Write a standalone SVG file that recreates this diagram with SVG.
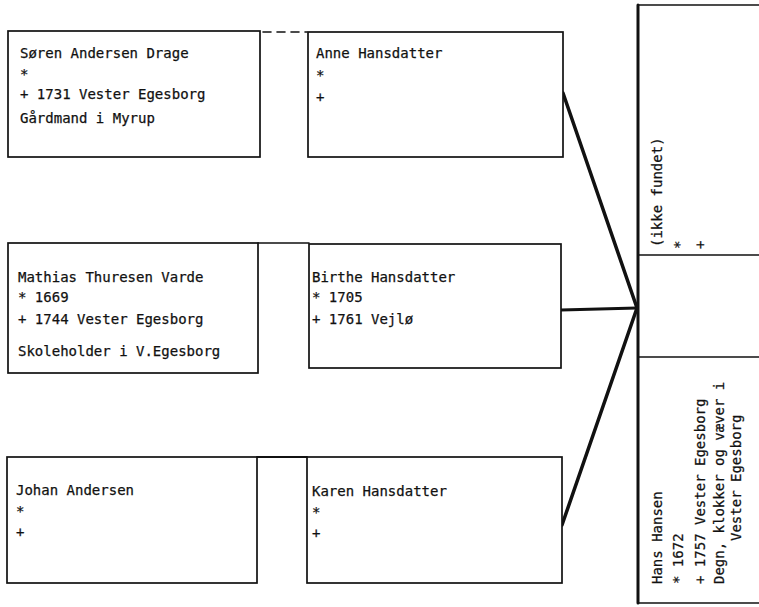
<svg xmlns="http://www.w3.org/2000/svg" width="759" height="607" viewBox="0 0 759 607">
<style>
.box{fill:#fff;stroke:#111;stroke-width:1.7}
.t{font-family:"DejaVu Sans Mono","Liberation Mono",monospace;font-size:14px;fill:#111;stroke:#111;stroke-width:0.25}
.c{stroke:#111;fill:none;stroke-linecap:round}
</style>
<rect width="759" height="607" fill="#fff"/>
<g id="connectors">
<line class="c" x1="263" y1="32" x2="307" y2="32" stroke-width="1.6" stroke-dasharray="8,6" stroke-linecap="butt"/>
<line class="c" x1="258" y1="243" x2="309" y2="243" stroke-width="1.6"/>
<line class="c" x1="257" y1="457" x2="307" y2="457" stroke-width="2"/>
<line class="c" x1="563" y1="93" x2="637" y2="308" stroke-width="3.5"/>
<line class="c" x1="561" y1="310" x2="637" y2="308" stroke-width="3"/>
<line class="c" x1="562" y1="525" x2="637" y2="308" stroke-width="3.5"/>
</g>
<g id="soren">
<rect class="box" x="8" y="31" width="252" height="126"/>
<text class="t" x="20" y="58">Søren Andersen Drage</text>
<text class="t" x="20" y="79">*</text>
<text class="t" x="20" y="99">+ 1731 Vester Egesborg</text>
<text class="t" x="20" y="123">Gårdmand i Myrup</text>
</g>
<g id="anne">
<rect class="box" x="308" y="32" width="255" height="125"/>
<text class="t" x="316" y="58">Anne Hansdatter</text>
<text class="t" x="316" y="80">*</text>
<text class="t" x="316" y="102">+</text>
</g>
<g id="mathias">
<rect class="box" x="8" y="243" width="250" height="130"/>
<text class="t" x="18" y="282">Mathias Thuresen Varde</text>
<text class="t" x="18" y="302">* 1669</text>
<text class="t" x="18" y="324">+ 1744 Vester Egesborg</text>
<text class="t" x="18" y="356">Skoleholder i V.Egesborg</text>
</g>
<g id="birthe">
<rect class="box" x="309" y="244" width="252" height="124"/>
<text class="t" x="312" y="282">Birthe Hansdatter</text>
<text class="t" x="312" y="302">* 1705</text>
<text class="t" x="312" y="324">+ 1761 Vejlø</text>
</g>
<g id="johan">
<rect class="box" x="7" y="457" width="250" height="126"/>
<text class="t" x="16" y="495">Johan Andersen</text>
<text class="t" x="16" y="516">*</text>
<text class="t" x="16" y="537">+</text>
</g>
<g id="karen">
<rect class="box" x="307" y="457" width="255" height="126"/>
<text class="t" x="312" y="496">Karen Hansdatter</text>
<text class="t" x="312" y="517">*</text>
<text class="t" x="312" y="538">+</text>
</g>
<g id="unknown-parent">
<line class="c" x1="638" y1="5" x2="759" y2="5" stroke-width="1.7"/>
<line class="c" x1="638" y1="255" x2="759" y2="255" stroke-width="1.7"/>
<text class="t" transform="translate(662,247) rotate(-90)">(ikke fundet)</text>
<text class="t" transform="translate(684,249) rotate(-90)">*</text>
<text class="t" transform="translate(705,249) rotate(-90)">+</text>
</g>
<g id="middle">
<line class="c" x1="638" y1="357" x2="759" y2="357" stroke-width="1.7"/>
</g>
<g id="hans">
<line class="c" x1="638" y1="603" x2="759" y2="603" stroke-width="1.7"/>
<text class="t" transform="translate(662,584) rotate(-90)">Hans Hansen</text>
<text class="t" transform="translate(683,584) rotate(-90)">* 1672</text>
<text class="t" transform="translate(705,584) rotate(-90)">+ 1757 Vester Egesborg</text>
<text class="t" transform="translate(724,584) rotate(-90)">Degn, klokker og væver i</text>
<text class="t" transform="translate(741,541) rotate(-90)">Vester Egesborg</text>
</g>
<line class="c" x1="638" y1="5" x2="638" y2="603" stroke-width="3"/>
</svg>
